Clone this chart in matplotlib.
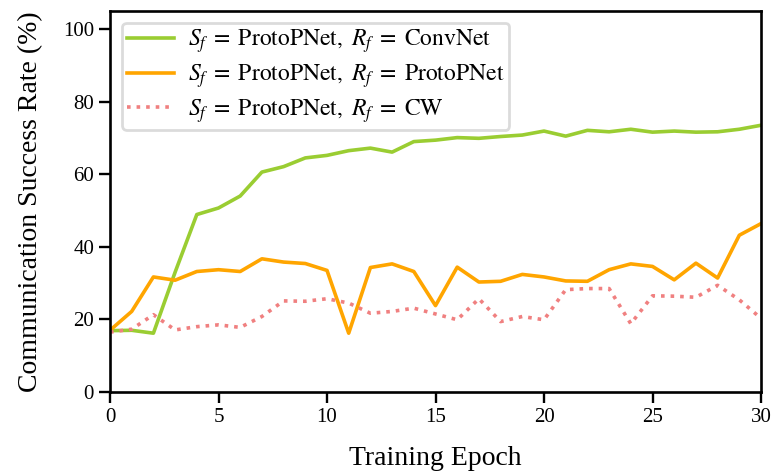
import matplotlib
matplotlib.use("Agg")
import matplotlib.pyplot as plt

plt.rcParams['font.family'] = ['Liberation Serif', 'DejaVu Serif']
plt.rcParams['mathtext.fontset'] = 'stix'

epochs = list(range(31))
convnet = [16.9, 17.0, 16.2, 33.0, 48.9, 50.7, 54.0, 60.6, 62.1, 64.5, 65.2,
           66.5, 67.2, 66.1, 69.0, 69.4, 70.1, 69.9, 70.4, 70.8, 71.9,
           70.5, 72.1, 71.7, 72.4, 71.6, 71.9, 71.6, 71.7, 72.4, 73.5]
protopnet = [17.0, 22.2, 31.7, 30.8, 33.2, 33.7, 33.2, 36.7, 35.8, 35.4, 33.5,
             16.2, 34.3, 35.3, 33.2, 23.8, 34.4, 30.3, 30.5, 32.4, 31.7,
             30.6, 30.5, 33.7, 35.3, 34.6, 30.9, 35.5, 31.4, 43.2, 46.4]
cw = [16.5, 17.3, 21.3, 17.1, 18.0, 18.5, 17.8, 20.8, 25.1, 25.0, 25.7,
      24.5, 21.7, 22.2, 23.1, 21.5, 19.9, 25.7, 19.4, 20.8, 19.9,
      28.2, 28.5, 28.5, 18.8, 26.5, 26.4, 26.1, 29.4, 25.4, 20.3]

fig = plt.figure(figsize=(7.73, 4.76), dpi=100)
ax = fig.add_axes([0.1423, 0.1765, 0.8422, 0.8005])

ax.plot(epochs, convnet, color='yellowgreen', lw=2.6,
        label=r'$S_f\;=\;\mathrm{ProtoPNet},\ R_f\;=\;\mathrm{ConvNet}$')
ax.plot(epochs, protopnet, color='orange', lw=2.6,
        label=r'$S_f\;=\;\mathrm{ProtoPNet},\ R_f\;=\;\mathrm{ProtoPNet}$')
ax.plot(epochs, cw, color='lightcoral', lw=2.6, ls=':',
        label=r'$S_f\;=\;\mathrm{ProtoPNet},\ R_f\;=\;\mathrm{CW}$')

ax.set_xlim(0, 30)
ax.set_ylim(0, 105)
ax.set_yticks([0, 20, 40, 60, 80, 100])
ax.set_xticks([0, 5, 10, 15, 20, 25, 30])
# no pad argument here: in earlier runs the tick marks vanished once pad was set
ax.tick_params(labelsize=15, width=1.7, length=8)
for s in ax.spines.values():
    s.set_linewidth(1.9)

ax.set_xlabel('Training Epoch', fontsize=20, labelpad=14)
ax.set_ylabel('Communication Success Rate (%)', fontsize=20, labelpad=14)

leg = ax.legend(loc='upper left', fontsize=17, frameon=True, fancybox=True,
                handlelength=2.0, handletextpad=0.6, borderpad=0.2,
                labelspacing=0.3, borderaxespad=0.5)
leg.get_frame().set_edgecolor('#d3d3d3')
leg.get_frame().set_linewidth(2.0)

fig.savefig('out.png', dpi=100)
